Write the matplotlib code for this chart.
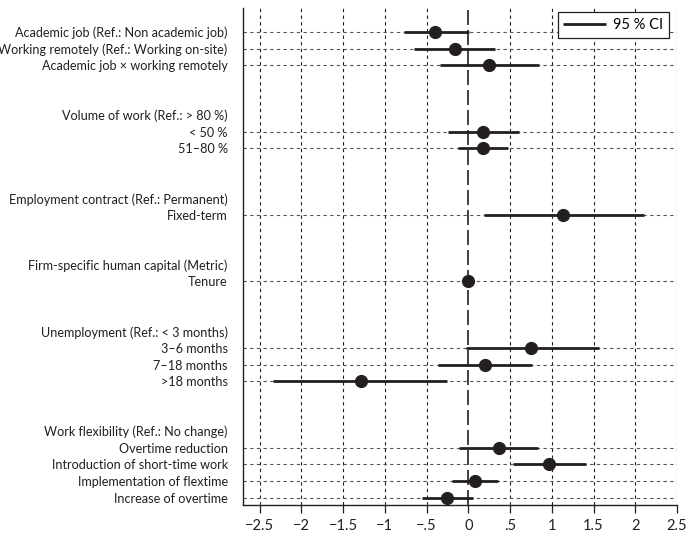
import matplotlib
matplotlib.use('Agg')
from matplotlib import pyplot as plt

plt.rcParams['font.family'] = ['Lato', 'DejaVu Sans']

# data rows (label, position index from top)
labels = ['Academic job (Ref.: Non academic job)',
          'Working remotely (Ref.: Working on-site)',
          'Academic job \u00d7 working remotely',
          '< 50 %', '51\u201380 %',
          'Fixed-term',
          'Tenure',
          '3\u20136 months', '7\u201318 months', '>18 months',
          'Overtime reduction', 'Introduction of short-time work',
          'Implementation of flextime', 'Increase of overtime']
rows = [0, 1, 2, 6, 7, 11, 15, 19, 20, 21, 25, 26, 27, 28]
coef = [-0.40, -0.16, 0.25, 0.18, 0.17, 1.14, -0.01, 0.75, 0.20, -1.29,
        0.37, 0.97, 0.08, -0.25]
ci_lo = [-0.77, -0.65, -0.34, -0.24, -0.12, 0.19, -0.02, -0.03, -0.36, -2.34,
         -0.11, 0.54, -0.20, -0.55]
ci_hi = [0.01, 0.32, 0.85, 0.61, 0.47, 2.11, 0.01, 1.57, 0.76, -0.26,
         0.84, 1.41, 0.36, 0.06]

headers = ['Volume of work (Ref.: > 80 %)',
           'Employment contract (Ref.: Permanent)',
           'Firm-specific human capital (Metric)',
           'Unemployment (Ref.: < 3 months)',
           'Work flexibility (Ref.: No change)']
header_rows = [5, 10, 14, 18, 24]

xticks = [-2.5, -2, -1.5, -1, -0.5, 0, 0.5, 1, 1.5, 2, 2.5]
xticklabels = ['\u22122.5', '\u22122', '\u22121.5', '\u22121', '\u2212.5', '0',
               '.5', '1', '1.5', '2', '2.5']

ink = '#231f20'
fs = 9.1

fig = plt.figure(figsize=(6.89, 5.37), dpi=100)
ax = fig.add_axes([243/689, 1-505/537, 434/689, 497/537])

# grid
for x in xticks:
    if x == 0:
        continue
    ax.axvline(x, color=ink, lw=0.8, ls=(0, (3, 3)), zorder=1)
for r in rows:
    ax.axhline(r, color='#555555', lw=0.8, ls=(0, (3, 3)), zorder=1)
ax.axvline(0, color=ink, lw=1.2, ls=(0, (9, 3)), zorder=2)

ax.hlines(rows, ci_lo, ci_hi, color=ink, lw=2.0, zorder=3, label='95 % CI')
ax.plot(coef, rows, 'o', color=ink, ms=8.5, zorder=4)

ax.set_xlim(-2.7, 2.5)
ax.set_ylim(28.45, -1.45)

ax.set_xticks(xticks)
ax.set_xticklabels(xticklabels, fontsize=10.5)
ax.tick_params(axis='x', direction='out', length=6, width=0.9, color=ink,
               labelcolor=ink, pad=4)

ax.set_yticks(rows)
ax.set_yticklabels(labels, fontsize=fs)
ax.set_yticks(header_rows, minor=True)
ax.set_yticklabels(headers, minor=True, fontsize=fs)
ax.tick_params(axis='y', which='both', length=0, pad=11, labelcolor=ink)

for s in ['top', 'right']:
    ax.spines[s].set_visible(False)
for s in ['left', 'bottom']:
    ax.spines[s].set_color(ink)
    ax.spines[s].set_linewidth(1.0)

leg = ax.legend(loc='upper right', bbox_to_anchor=(669/689, 1-12/537),
                bbox_transform=fig.transFigure, fontsize=10.5, frameon=True,
                fancybox=False, edgecolor=ink, handlelength=2.9,
                handletextpad=0.5, borderpad=0.4, borderaxespad=0,
                framealpha=1)
leg.get_frame().set_linewidth(0.9)

fig.savefig('out.png', dpi=100)
